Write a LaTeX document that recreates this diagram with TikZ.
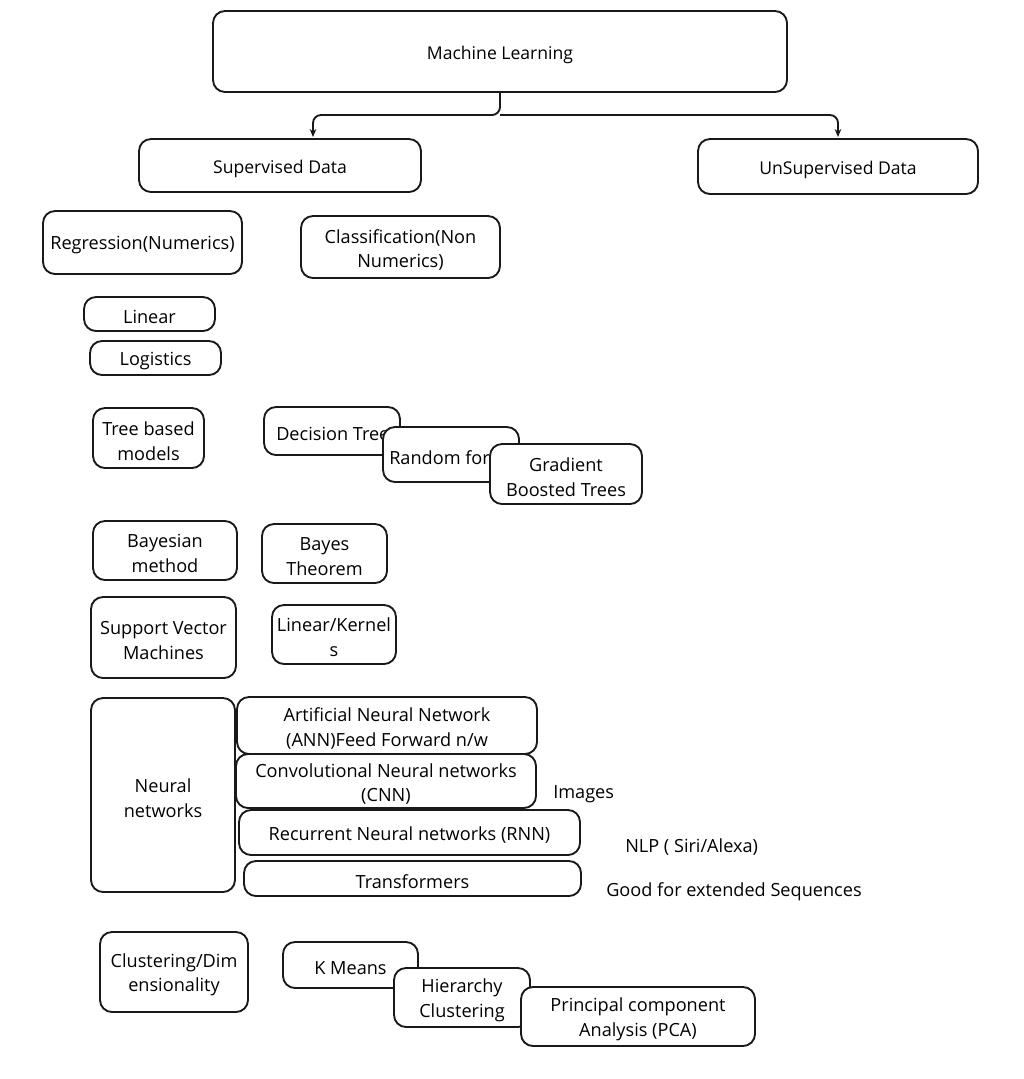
\documentclass[tikz,border=0pt]{standalone}
\usepackage{fontspec}
\setmainfont{Open Sans}
\usetikzlibrary{fit,arrows.meta}
\begin{document}
\begin{tikzpicture}[x=0.75pt,y=-0.75pt,
  box/.style={draw=black!90, line width=1.4pt, rounded corners=9pt, fill=white, inner sep=0pt},
  txt/.style={inner sep=0pt, align=center, yshift=-2.2pt, font=\fontsize{13.6}{18.5}\selectfont},
  top/.style={font=\fontsize{13.2}{16}\selectfont},
  conn/.style={draw=black!90, line width=1.4pt, rounded corners=6pt, -{Stealth[length=6pt,width=5pt]}}]
\useasboundingbox (0,0) rectangle (1024,1079);

\node[box,fit={(213,11) (787,92)}] (ml) {};
\node[txt,top] (mlt) at (ml.center) {Machine Learning};
\node[box,fit={(139,139) (421,192)}] (sup) {};
\node[txt,top] (supt) at (sup.center) {Supervised Data};
\node[box,fit={(698,139) (978,194)}] (uns) {};
\node[txt,top] (unst) at (uns.center) {UnSupervised Data};

\coordinate (j) at (500,115);
\coordinate (jl) at (313,115);
\coordinate (jr) at (838,115);
\coordinate (al) at (313,137);
\coordinate (ar) at (838,137);
\draw[conn] (ml.south) -- (j) -- (jl) -- (al);
\draw[conn] (j) -- (jr) -- (ar);

\node[box,fit={(43,211) (242,274)}] (reg) {};
\node[txt] (regt) at (reg.center) {Regression(Numerics)};
\node[box,fit={(301,216) (500,278)}] (cls) {};
\node[txt] (clst) at (cls.center) {Classification(Non\\Numerics)};
\node[box,fit={(84,297) (215,331)}] (lin) {};
\node[txt] (lint) at (lin.center) {Linear};
\node[box,fit={(90,341) (221,375)}] (logi) {};
\node[txt] (logit) at (logi.center) {Logistics};

\node[box,fit={(93,408) (204,468)}] (tree) {};
\node[txt] (treet) at (tree.center) {Tree based\\models};
\node[box,fit={(264,407) (400,455)}] (dt) {};
\node[txt,anchor=west] (dtt) at (276,431) {Decision Trees};
\node[box,fit={(383,427) (519,482)}] (rf) {};
\node[txt,anchor=west] (rft) at (389,455) {Random forest};
\node[box,fit={(490,444) (642,504)}] (gbt) {};
\node[txt] (gbtt) at (gbt.center) {Gradient\\Boosted Trees};

\node[box,fit={(93,521) (237,580)}] (bay) {};
\node[txt] (bayt) at (bay.center) {Bayesian\\method};
\node[box,fit={(262,524) (387,583)}] (bt) {};
\node[txt] (btt) at (bt.center) {Bayes\\Theorem};
\node[box,fit={(91,597) (236,678)}] (svm) {};
\node[txt] (svmt) at (svm.center) {Support Vector\\Machines};
\node[box,fit={(272,605) (396,664)}] (lk) {};
\node[txt] (lkt) at (lk.center) {Linear/Kernel\\s};

\node[box,fit={(91,698) (235,892)}] (nn) {};
\node[txt] (nnt) at (nn.center) {Neural\\networks};
\node[box,fit={(237,697) (537,754)}] (ann) {};
\node[txt] (annt) at (ann.center) {Artificial Neural Network\\(ANN)Feed Forward n/w};
\node[box,fit={(236,754) (536,808)}] (cnn) {};
\node[txt] (cnnt) at (cnn.center) {Convolutional Neural networks\\(CNN)};
\node[box,fit={(239,810) (580,855)}] (rnn) {};
\node[txt] (rnnt) at (rnn.center) {Recurrent Neural networks (RNN)};
\node[box,fit={(244,861) (581,896)}] (tr) {};
\node[txt] (trt) at (tr.center) {Transformers};
\node[txt,anchor=west] (img) at (553,791) {Images};
\node[txt,anchor=west] (nlp) at (625,844) {NLP ( Siri/Alexa)};
\node[txt,anchor=west] (good) at (606,889) {Good for extended Sequences};

\node[box,fit={(100,932) (248,1012)}] (clu) {};
\node[txt] (clut) at (clu.center) {Clustering/Dim\\ensionality};
\node[box,fit={(283,942) (418,988)}] (km) {};
\node[txt] (kmt) at (km.center) {K Means};
\node[box,fit={(394,968) (530,1027)}] (hc) {};
\node[txt] (hct) at (hc.center) {Hierarchy\\Clustering};
\node[box,fit={(521,987) (755,1046)}] (pca) {};
\node[txt] (pcat) at (pca.center) {Principal component\\Analysis (PCA)};
\end{tikzpicture}
\end{document}
